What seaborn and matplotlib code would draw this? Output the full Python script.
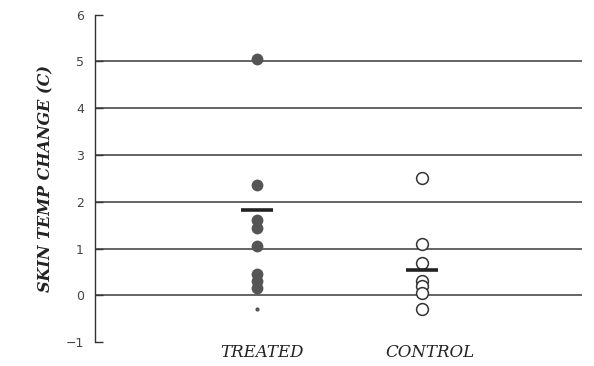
import matplotlib
matplotlib.use("Agg")
import matplotlib.pyplot as plt
import seaborn as sns
import pandas as pd

groups = ["TREATED", "CONTROL"]
treated_vals = [5.05, 2.35, 1.62, 1.45, 1.05, 0.45, 0.3, 0.15]
control_vals = [2.5, 1.1, 0.7, 0.3, 0.2, 0.05, -0.3]
group_means = [1.83, 0.55]
stray_val = -0.28
y_ticks = [-1, 0, 1, 2, 3, 4, 5, 6]
grid_levels = [0, 1, 2, 3, 4, 5]

df = pd.DataFrame({
    "group": ["TREATED"] * len(treated_vals) + ["CONTROL"] * len(control_vals),
    "change": treated_vals + control_vals,
})

sns.set_style("white")
fig, ax = plt.subplots(figsize=(5.94, 3.66), dpi=100)
fig.subplots_adjust(left=0.16, right=0.98, bottom=0.065, top=0.96)

for lv in grid_levels:
    ax.axhline(lv, color="#3a3a3a", lw=1.1, zorder=1)

sns.stripplot(data=df[df.group == "TREATED"], x="group", y="change", order=groups,
              jitter=False, color="#555555", size=8.5, linewidth=0, ax=ax, zorder=3)
sns.stripplot(data=df[df.group == "CONTROL"], x="group", y="change", order=groups,
              jitter=False, color="white", edgecolor="#333333", linewidth=1.1,
              size=8.5, ax=ax, zorder=3)
ax.plot([0], [stray_val], marker="o", ms=2, color="#555555", zorder=3)

for i, m in enumerate(group_means):
    ax.hlines(m, i - 0.095, i + 0.095, color="#222222", lw=2.6, zorder=4)

ax.set_xlim(-0.98, 1.97)
ax.set_ylim(-1, 6)
ax.set_yticks(y_ticks)
ax.set_yticklabels([str(t).replace("-", "\u2212") for t in y_ticks],
                   fontsize=9, color="#444444")
ax.tick_params(axis="y", direction="in", length=6, width=1, color="#333333", pad=8, left=True)
ax.tick_params(axis="x", length=0, pad=1)
ax.set_xticks([0.03, 1.05])
ax.set_xticklabels(groups, fontsize=12, family="DejaVu Serif", style="italic", color="#222222")

ax.set_xlabel("")
ax.set_ylabel("SKIN TEMP CHANGE (C)", fontsize=11.5, family="DejaVu Serif",
              style="italic", fontweight="bold", color="#222222", labelpad=8)

for side in ["top", "right", "bottom"]:
    ax.spines[side].set_visible(False)
ax.spines["left"].set_color("#333333")
ax.spines["left"].set_linewidth(1)

fig.savefig("out.png", dpi=100)
